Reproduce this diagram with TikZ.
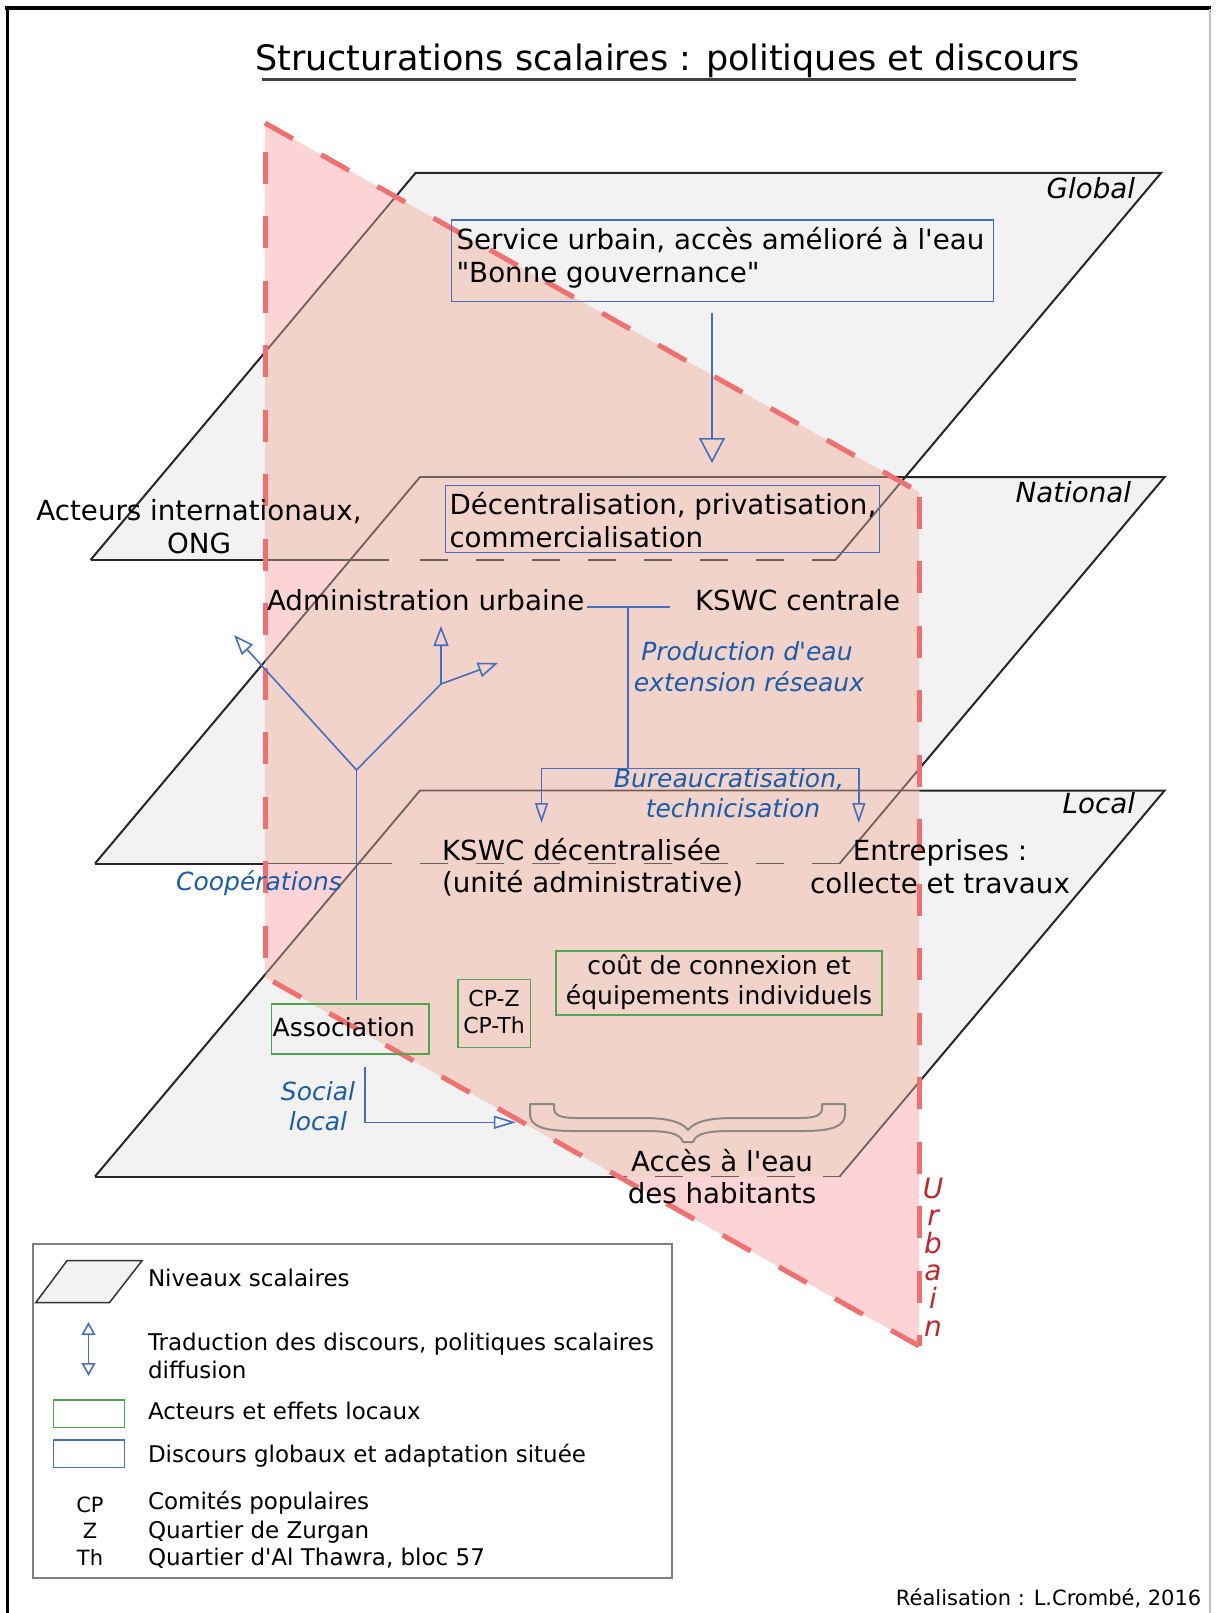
\documentclass[tikz,border=0pt]{standalone}
\usepackage{fontspec}
\setmainfont{DejaVu Sans}[ItalicFont={DejaVu Sans Oblique}]
\usetikzlibrary{arrows.meta}
\definecolor{planefill}{RGB}{242,242,242}
\definecolor{pinkw}{RGB}{252,212,213}
\definecolor{overlap}{RGB}{241,211,202}
\definecolor{edgebrown}{RGB}{112,96,90}
\definecolor{reddash}{RGB}{240,112,112}
\definecolor{blueline}{RGB}{70,110,190}
\definecolor{bluetxt}{RGB}{25,92,172}
\definecolor{greenline}{RGB}{80,165,80}
\definecolor{urbred}{RGB}{192,39,45}
\definecolor{bracegray}{RGB}{140,136,134}
\definecolor{legendgray}{RGB}{128,128,128}
\newcommand{\sq}{\textquotesingle}
\newcommand{\urbpoly}{(265,123) -- (919,492) -- (919,1346) -- (265,977) -- cycle}
\newcommand{\globalpoly}{(415.5,173) -- (1161,173) -- (835.5,560) -- (90.5,560) -- cycle}
\newcommand{\nationalpoly}{(420,477) -- (1164.6,477) -- (839.6,863.5) -- (95,863.5) -- cycle}
\newcommand{\localpoly}{(420,790.5) -- (1164.6,790.5) -- (839.6,1176.5) -- (95,1176.5) -- cycle}
\newcommand{\planeedges}[1]{%
\draw[planeline,#1] (90.5,560) -- (415.5,173) -- (1161,173) -- (835.5,560);
\draw[planeline,#1] (90.5,560) -- (389,560);
\draw[planeline,#1, dash pattern=on 28pt off 28pt] (420,560) -- (835.5,560);
\draw[planeline,#1] (95,863.5) -- (420,477) -- (1164.6,477) -- (839.6,863.5);
\draw[planeline,#1] (95,863.5) -- (392,863.5);
\draw[planeline,#1, dash pattern=on 28pt off 28pt] (420,863.5) -- (839.6,863.5);
\draw[planeline,#1] (95,1176.5) -- (420,790.5) -- (1164.6,790.5) -- (839.6,1176.5);
\draw[planeline,#1] (95,1176.5) -- (627,1176.5);
\draw[planeline,#1, dash pattern=on 28pt off 28pt] (655,1176.5) -- (839.6,1176.5);}
\tikzset{
  planeline/.style={line width=2pt, draw=black!85},
  reddashed/.style={draw=reddash, line width=5pt, dash pattern=on 32pt off 32.5pt},
  conn/.style={draw=blueline, line width=1.6pt},
  bluebox/.style={draw=blueline, line width=1.6pt, rectangle, inner sep=0pt, outer sep=0pt},
  greenbox/.style={draw=greenline, line width=1.6pt, rectangle, inner sep=0pt, outer sep=0pt},
  maintext/.style={font=\fontsize{27.7}{33}\selectfont, inner sep=0pt, outer sep=0pt},
  smalltext/.style={font=\fontsize{25}{30}\selectfont, inner sep=0pt, outer sep=0pt},
  cptext/.style={font=\fontsize{22}{26}\selectfont, inner sep=0pt, outer sep=0pt},
  bluetext/.style={font=\fontsize{25}{30}\selectfont\itshape, text=bluetxt, inner sep=0pt, outer sep=0pt},
  leveltext/.style={font=\fontsize{27.7}{33}\selectfont\itshape, inner sep=0pt, outer sep=0pt},
  urbtext/.style={font=\fontsize{28}{33}\selectfont\itshape, text=urbred, inner sep=0pt, anchor=base},
  legtext/.style={font=\fontsize{23}{28}\selectfont, inner sep=0pt, outer sep=0pt, anchor=base west},
  legabbr/.style={font=\fontsize{21}{26}\selectfont, inner sep=0pt, outer sep=0pt, anchor=base},
  TipBig/.tip={Triangle[open, width=26pt, length=25pt]},
  TipS/.tip={Triangle[open, width=13pt, length=20pt]},
  TipT/.tip={Triangle[open, width=15pt, length=20pt]},
  TipH/.tip={Triangle[open, width=13pt, length=22pt]},
  TipL/.tip={Triangle[open, width=14pt, length=13pt]},
}
\begin{document}
\begin{tikzpicture}[x=1pt,y=-1pt]
\useasboundingbox (0,0) rectangle (1215,1613);
\fill[white] (0,0) rectangle (1215,1613);
% frame
\draw[line width=4pt] (5,8) -- (1211,8);
\draw[line width=3pt] (7,6) -- (7,1613);
\draw[line width=2pt, black!25] (1210,9) -- (1210,1613);

% planes
\fill[planefill] \globalpoly;
\fill[planefill] \nationalpoly;
\fill[planefill] \localpoly;
\planeedges{}

% urban plane: opaque pink, overlap drawn inside a clip
\fill[pinkw] \urbpoly;
\begin{scope}
  \clip \urbpoly;
  \fill[overlap] \globalpoly;
  \fill[overlap] \nationalpoly;
  \fill[overlap] \localpoly;
  \planeedges{draw=edgebrown, line width=1.8pt}
\end{scope}

% brace
\draw[bracegray, line width=2pt, line join=round]
  (693,1142) .. controls (696,1133) and (708,1131) .. (733,1131)
  -- (803,1131) .. controls (833,1131) and (845,1126) .. (845,1114)
  -- (845,1104) -- (822,1104) -- (822,1108)
  .. controls (822,1115) and (816,1118) .. (800,1118)
  -- (733,1118) .. controls (708,1118) and (694,1122) .. (688,1130)
  .. controls (682,1122) and (668,1118) .. (643,1118)
  -- (576,1118) .. controls (560,1118) and (554,1115) .. (554,1108)
  -- (554,1104) -- (530,1104) -- (530,1114)
  .. controls (530,1126) and (543,1131) .. (573,1131)
  -- (643,1131) .. controls (668,1131) and (680,1133) .. (683,1142) -- cycle;

\draw[reddashed] (265,123) -- (919,492);
\draw[reddashed, dash phase=60pt] (919,492) -- (919,1346);
\draw[reddashed] (919,1346) -- (265,977);
\draw[reddashed, dash phase=35.8pt] (265,123) -- (265,977);

% title
\node[font=\fontsize{35}{42}\selectfont, inner sep=0pt, anchor=base west] (title) at (255,70.8) {Structurations scalaires : politiques et discours};
\draw[line width=3.5pt, black!75] (262,79.5) -- (1076,79.5);

% level labels
\node[leveltext, anchor=base east] (lglobal) at (1135,199) {Global};
\node[leveltext, anchor=base east] (lnational) at (1131,502) {National};
\node[leveltext, anchor=base east] (llocal) at (1135,813) {Local};

% Urbain
\node[urbtext] (u1) at (933,1198) {U};
\node[urbtext] (u2) at (933,1225.6) {r};
\node[urbtext] (u3) at (933,1253.2) {b};
\node[urbtext] (u4) at (933,1280.8) {a};
\node[urbtext] (u5) at (933,1308.4) {i};
\node[urbtext] (u6) at (933,1336) {n};

% global box
\node[bluebox, anchor=north west, minimum width=542pt, minimum height=81.5pt] (svc) at (451.5,220) {};
\node[maintext, anchor=base west] (svc1) at (456.5,250) {Service urbain, accès amélioré à l\sq eau};
\node[maintext, anchor=base west] (svc2) at (456.5,283) {\textquotedbl Bonne gouvernance\textquotedbl};
\coordinate (svcArrowStart) at (712,313);
\coordinate (svcArrowEnd) at (712,463);
\draw[conn, -{TipBig}] (svcArrowStart) -- (svcArrowEnd);

% national box
\node[bluebox, anchor=north west, minimum width=434pt, minimum height=67pt] (dec) at (445.5,485.5) {};
\node[maintext, anchor=base west] (dec1) at (449.5,514) {Décentralisation, privatisation,};
\node[maintext, anchor=base west] (dec2) at (449.5,547) {commercialisation};

\node[maintext, anchor=base] (acteurs1) at (199,520) {Acteurs internationaux,};
\node[maintext, anchor=base] (acteurs2) at (199,553) {ONG};

\node[maintext, anchor=base west] (admin) at (267,610) {Administration urbaine};
\node[maintext, anchor=base west] (kswcc) at (695,610) {KSWC centrale};
\coordinate (adminR) at (587,606.7);
\coordinate (kswcL) at (670,606.7);
\coordinate (j1) at (628,606.7);
\coordinate (j2) at (628,768.3);
\coordinate (kdArrow) at (541.5,823);
\coordinate (entArrow) at (858.8,823);
\draw[conn] (adminR) -- (kswcL);
\draw[conn] (j1) -- (j2);
\draw[conn, -{TipS}] (j2) -| (kdArrow);
\draw[conn, -{TipS}] (j2) -| (entArrow);

\node[bluetext, anchor=base] (prod1) at (747,660.6) {Production d\sq eau};
\node[bluetext, anchor=base] (prod2) at (749,691) {extension réseaux};
\node[bluetext, anchor=base] (bur1) at (729,787.6) {Bureaucratisation,};
\node[bluetext, anchor=base] (bur2) at (733,817.4) {technicisation};

% local level
\node[maintext, anchor=base west] (kd1) at (442,860) {KSWC décentralisée};
\node[maintext, anchor=base west] (kd2) at (442,892.5) {(unité administrative)};
\node[maintext, anchor=base] (ent1) at (940,860) {Entreprises :};
\node[maintext, anchor=base] (ent2) at (940,893) {collecte et travaux};
\node[bluetext, anchor=base] (coop) at (259,890.8) {Coopérations};

% tree of cooperations
\node[greenbox, anchor=north west, minimum width=157.5pt, minimum height=50pt] (assoc) at (271.5,1004) {};
\node[smalltext, anchor=base west] (assoctxt) at (272.7,1036.4) {Association};
\coordinate (stemBot) at (356.5,1000);
\coordinate (fork) at (356.5,770);
\coordinate (tL) at (234,635);
\coordinate (br) at (441,684);
\coordinate (tU) at (441,626);
\coordinate (tR) at (498,663);
\draw[conn] (stemBot) -- (fork);
\draw[conn, -{TipT}] (fork) -- (tL);
\draw[conn] (fork) -- (br);
\draw[conn, -{TipT}] (br) -- (tU);
\draw[conn, -{TipT}] (br) -- (tR);

\node[greenbox, anchor=north west, minimum width=72.7pt, minimum height=68pt] (cpbox) at (457.7,979.3) {};
\node[cptext, anchor=base] (cp1) at (494,1006.3) {CP-Z};
\node[cptext, anchor=base] (cp2) at (494,1033) {CP-Th};

\node[greenbox, anchor=north west, minimum width=325.7pt, minimum height=64.5pt] (cout) at (556,950.7) {};
\node[smalltext, anchor=base] (cout1) at (719,974) {coût de connexion et};
\node[smalltext, anchor=base] (cout2) at (719,1004) {équipements individuels};

\node[bluetext, anchor=base] (soc1) at (318,1100.7) {Social};
\node[bluetext, anchor=base] (soc2) at (318,1130.6) {local};
\coordinate (s0) at (364.8,1067.3);
\coordinate (s1) at (515.8,1122.3);
\draw[conn, -{TipH}] (s0) |- (s1);

\node[maintext, anchor=base] (acc1) at (722,1171) {Accès à l\sq eau};
\node[maintext, anchor=base] (acc2) at (722,1203) {des habitants};

% legend
\node[draw=legendgray, line width=2pt, rectangle, inner sep=0pt, anchor=north west, minimum width=638.8pt, minimum height=334pt] (legend) at (32,1243.3) {};
\filldraw[fill=planefill, draw=black!80, line width=1.5pt] (67,1260.7) -- (142,1260.7) -- (109.4,1302.7) -- (35.7,1302.7) -- cycle;
\node[legtext] (leg1) at (148,1286.4) {Niveaux scalaires};
\coordinate (la0) at (88.5,1322);
\coordinate (la1) at (88.5,1376);
\draw[conn, {TipL}-{TipL}] (la0) -- (la1);
\node[legtext] (leg2a) at (148,1350.4) {Traduction des discours, politiques scalaires};
\node[legtext] (leg2b) at (148,1378) {diffusion};
\node[greenbox, anchor=north west, minimum width=71pt, minimum height=27.3pt] (leggreen) at (53.5,1400) {};
\node[legtext] (leg3) at (148,1419.4) {Acteurs et effets locaux};
\node[bluebox, anchor=north west, minimum width=71pt, minimum height=27.3pt] (legblue) at (53.5,1440) {};
\node[legtext] (leg4) at (148,1462) {Discours globaux et adaptation située};
\node[legabbr] (abCP) at (90,1512) {CP};
\node[legabbr] (abZ) at (90,1538) {Z};
\node[legabbr] (abTh) at (90,1565) {Th};
\node[legtext] (leg5) at (148,1509.4) {Comités populaires};
\node[legtext] (leg6) at (148,1538) {Quartier de Zurgan};
\node[legtext] (leg7) at (148,1565) {Quartier d\sq Al Thawra, bloc 57};

\node[font=\fontsize{21}{25}\selectfont, inner sep=0pt, anchor=base east] (credit) at (1201.5,1605.4) {Réalisation : L.Crombé, 2016};
\end{tikzpicture}
\end{document}
